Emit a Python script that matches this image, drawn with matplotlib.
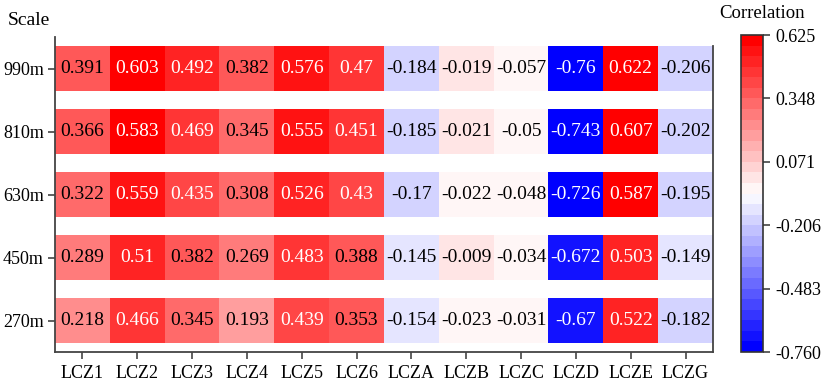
import numpy as np
import matplotlib
matplotlib.use("Agg")
import matplotlib.pyplot as plt

plt.rcParams['font.family'] = ['Liberation Serif', 'DejaVu Serif']

columns = ["LCZ1", "LCZ2", "LCZ3", "LCZ4", "LCZ5", "LCZ6",
           "LCZA", "LCZB", "LCZC", "LCZD", "LCZE", "LCZG"]
scales = ["990m", "810m", "630m", "450m", "270m"]

r990 = [0.391, 0.603, 0.492, 0.382, 0.576, 0.47, -0.184, -0.019, -0.057, -0.76, 0.622, -0.206]
r810 = [0.366, 0.583, 0.469, 0.345, 0.555, 0.451, -0.185, -0.021, -0.05, -0.743, 0.607, -0.202]
r630 = [0.322, 0.559, 0.435, 0.308, 0.526, 0.43, -0.17, -0.022, -0.048, -0.726, 0.587, -0.195]
r450 = [0.289, 0.51, 0.382, 0.269, 0.483, 0.388, -0.145, -0.009, -0.034, -0.672, 0.503, -0.149]
r270 = [0.218, 0.466, 0.345, 0.193, 0.439, 0.353, -0.154, -0.023, -0.031, -0.67, 0.522, -0.182]
rows = [r990, r810, r630, r450, r270]

cbar_ticks = [0.625, 0.348, 0.071, -0.206, -0.483, -0.760]
vmin, vmax = -0.760, 0.625

cmap = plt.get_cmap('bwr', 30)
norm = matplotlib.colors.Normalize(vmin=vmin, vmax=vmax)

fig = plt.figure(figsize=(8.29, 3.84), dpi=100)
ax = fig.add_axes([0.0663, 0.0833, 0.7937, 0.8203])

n_rows = len(scales)
h = 0.35
x_edges = np.arange(len(columns) + 1) - 0.5
mesh = None
for i, row in enumerate(rows):
    yc = n_rows - 1 - i
    vals = np.array(row)[None, :]
    mesh = ax.pcolormesh(x_edges, [yc - h, yc + h], vals, cmap=cmap, norm=norm)
    for j, v in enumerate(row):
        s = f"{v:.3f}".rstrip('0')
        col = 'white' if abs(v) > 0.4 else 'black'
        ax.text(j, yc, s, ha='center', va='center', fontsize=14, color=col)

ax.set_xlim(-0.5, len(columns) - 0.5)
ax.set_ylim(-0.5, n_rows - 0.5)
ax.set_xticks(range(len(columns)))
ax.set_xticklabels(columns, fontsize=13)
ax.set_yticks([n_rows - 1 - i for i in range(n_rows)])
ax.set_yticklabels(scales, fontsize=13)
ax.tick_params(axis='both', direction='out', length=5, width=1.2, color='#444444', pad=3)
ax.tick_params(axis='x', pad=4)
ax.spines['top'].set_visible(False)
for sp in ['left', 'bottom', 'right']:
    ax.spines[sp].set_color('#444444')
    ax.spines[sp].set_linewidth(1.3)
ax.spines['right'].set_bounds(-0.5, n_rows - 1 + h)

cax = fig.add_axes([0.894, 0.0833, 0.0265, 0.8255])
cb = fig.colorbar(mesh, cax=cax)
cb.set_ticks(cbar_ticks)
cb.set_ticklabels([f"{t:.3f}" for t in cbar_ticks])
cax.tick_params(labelsize=13, length=5, width=1.2, color='#444444')
cb.outline.set_edgecolor('#333333')
cb.outline.set_linewidth(1.2)

fig.text(0.919, 0.966, "Correlation", ha='center', va='center', fontsize=13.5)
fig.text(0.009, 0.946, "Scale", ha='left', va='center', fontsize=14)

fig.savefig("out.png", dpi=100)
